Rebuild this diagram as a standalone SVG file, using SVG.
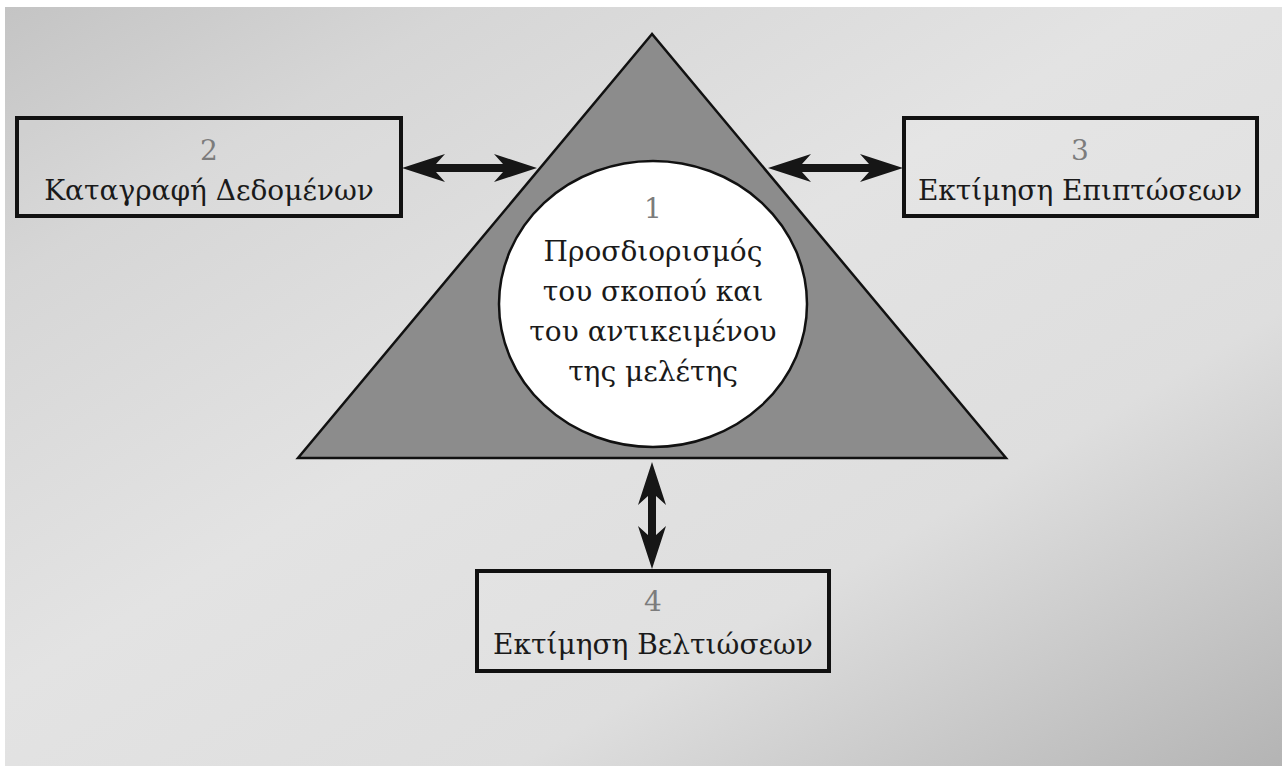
<svg xmlns="http://www.w3.org/2000/svg" width="1282" height="766" viewBox="0 0 1282 766">
  <defs>
    <linearGradient id="bg" x1="0" y1="0" x2="1" y2="1">
      <stop offset="0" stop-color="#c4c4c4"/>
      <stop offset="0.18" stop-color="#d6d6d6"/>
      <stop offset="0.45" stop-color="#e3e3e3"/>
      <stop offset="0.7" stop-color="#dedede"/>
      <stop offset="1" stop-color="#b4b4b4"/>
    </linearGradient>
    <!-- double-headed arrows running along +x from the origin -->
    <path id="arrow135" d="M0,0 L43,-14 L34,-4 L101,-4 L92,-14 L135,0 L92,14 L101,4 L34,4 L43,14 Z"/>
    <path id="arrow107" d="M0,0 L43,-14 L34,-4 L73,-4 L64,-14 L107,0 L64,14 L73,4 L34,4 L43,14 Z"/>
  </defs>
  <style>
    .box { fill: #ffffff; fill-opacity: 0.08; stroke: #111111; stroke-width: 4; }
    .num { font-family: "DejaVu Serif", serif; font-size: 28px; fill: #7c7c7c; text-anchor: middle; }
    .lbl { font-family: "DejaVu Serif", serif; font-size: 28px; fill: #1a1a1a; text-anchor: middle; }
    .arrow { fill: #161616; }
  </style>

  <rect x="0" y="0" width="1282" height="766" fill="#ffffff"/>
  <rect x="5" y="7" width="1277" height="759" fill="url(#bg)"/>

  <g id="node-1">
    <polygon points="652,34 298,458 1006,458" fill="#8c8c8c" stroke="#111111" stroke-width="2.5"/>
    <ellipse cx="653" cy="304" rx="154" ry="143" fill="#ffffff" stroke="#111111" stroke-width="2.5"/>
    <text class="num" x="653" y="218">1</text>
    <text class="lbl" x="653" y="261">Προσδιορισμός</text>
    <text class="lbl" x="653" y="301">του σκοπού και</text>
    <text class="lbl" x="653" y="341">του αντικειμένου</text>
    <text class="lbl" x="653" y="381">της μελέτης</text>
  </g>

  <g id="node-2">
    <rect class="box" x="17" y="118" width="384" height="98"/>
    <text class="num" x="209" y="160">2</text>
    <text class="lbl" x="209" y="200">Καταγραφή Δεδομένων</text>
  </g>

  <g id="node-3">
    <rect class="box" x="904" y="118" width="353" height="98"/>
    <text class="num" x="1080" y="160">3</text>
    <text class="lbl" x="1080" y="200">Εκτίμηση Επιπτώσεων</text>
  </g>

  <g id="node-4">
    <rect class="box" x="477" y="571" width="352" height="100"/>
    <text class="num" x="653" y="611">4</text>
    <text class="lbl" x="653" y="654">Εκτίμηση Βελτιώσεων</text>
  </g>

  <g id="connectors" class="arrow">
    <use href="#arrow135" transform="translate(402,168)"/>
    <use href="#arrow135" transform="translate(768,168)"/>
    <use href="#arrow107" transform="translate(652,462) rotate(90)"/>
  </g>
</svg>
